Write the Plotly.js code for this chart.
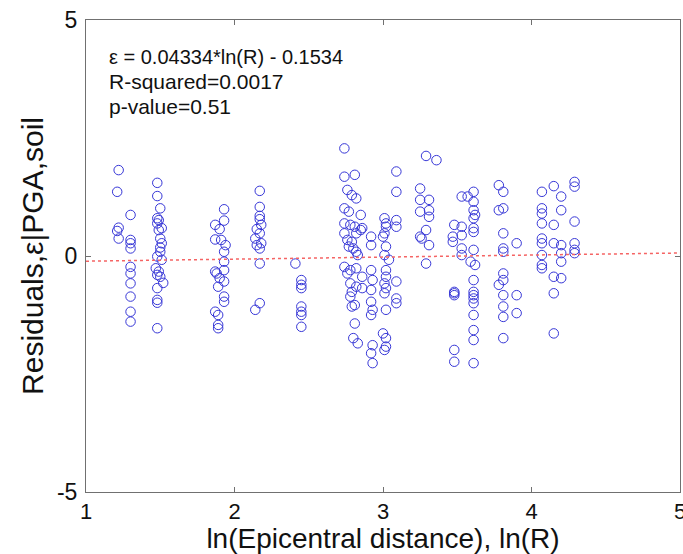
<!DOCTYPE html>
<html>
<head>
<meta charset="utf-8">
<script src="https://cdn.plot.ly/plotly-3.0.1.min.js"></script>
<style>html,body{margin:0;padding:0;background:#fff;}#chart{width:683px;height:554px;}</style>
</head>
<body>
<div id="chart"></div>
<script>
// ln(R) of each record, grouped by station-distance clusters
const lnR = [
  1.22,1.21,1.22,1.21,1.22,
  1.30,1.30,1.30,1.30,1.30,1.30,1.30,1.30,1.30,1.30,
  1.48,1.48,1.50,1.48,1.49,1.48,1.51,1.49,1.50,1.51,1.50,1.50,1.48,1.51,1.47,1.49,1.48,1.50,1.52,1.48,1.48,1.48,1.48,
  1.93,1.93,1.87,1.90,1.87,1.91,1.94,1.93,1.93,1.87,1.88,1.93,1.90,1.93,1.89,1.93,1.93,1.87,1.89,1.89,1.89,
  2.17,2.17,2.17,2.17,2.18,2.15,2.17,2.14,2.18,2.15,2.17,2.17,2.17,2.14,
  2.41,2.45,2.45,2.45,2.45,2.45,2.45,2.45,
  2.74,2.74,2.81,2.76,2.79,2.82,2.74,2.77,2.85,2.74,2.78,2.81,2.86,2.74,2.82,2.85,2.76,2.79,2.77,2.80,2.82,2.83,2.74,2.78,2.82,2.76,2.86,2.78,2.82,2.86,2.79,2.78,2.81,2.79,2.81,2.80,2.83,
  2.92,2.92,2.92,2.93,2.92,2.92,2.93,2.92,2.93,2.92,2.93,
  3.01,3.02,3.02,3.01,3.00,3.02,3.01,3.04,3.02,3.02,3.01,3.02,3.01,3.02,3.00,3.02,3.02,3.01,
  3.09,3.09,3.09,3.09,3.09,3.09,3.09,
  3.29,3.36,3.25,3.25,3.31,3.25,3.31,3.31,3.29,3.25,3.26,3.31,3.29,
  3.53,3.48,3.53,3.47,3.47,3.53,3.53,3.53,3.48,3.48,3.48,3.48,3.48,
  3.61,3.57,3.61,3.61,3.62,3.61,3.61,3.61,3.61,3.59,3.62,3.61,3.61,3.61,3.61,3.61,3.61,3.61,3.61,3.61,
  3.78,3.81,3.78,3.81,3.81,3.90,3.81,3.81,3.81,3.81,3.78,3.81,3.90,3.81,3.81,3.90,3.81,
  4.07,4.15,4.20,4.29,4.29,4.07,4.07,4.07,4.15,4.20,4.29,4.07,4.07,4.15,4.20,4.20,4.20,4.29,4.29,4.29,4.07,4.07,4.07,4.15,4.20,4.15,4.15
];
// residuals eps|PGA,soil, same order as lnR
const residual = [
  1.82,1.36,0.60,0.53,0.37,
  0.87,0.34,0.27,0.16,-0.23,-0.37,-0.58,-0.86,-1.18,-1.39,
  1.55,1.27,1.01,0.80,0.76,0.69,0.59,0.55,0.37,0.27,0.18,0.09,-0.01,-0.08,-0.26,-0.33,-0.40,-0.44,-0.57,-0.68,-0.93,-0.99,-1.53,
  0.99,0.75,0.66,0.57,0.35,0.34,0.23,0.09,-0.12,-0.33,-0.37,-0.30,-0.47,-0.54,-0.65,-0.86,-0.97,-1.18,-1.25,-1.46,-1.53,
  1.38,1.04,0.85,0.78,0.66,0.57,0.48,0.37,0.27,0.23,0.16,-0.16,-1.00,-1.14,
  -0.16,-0.51,-0.61,-0.68,-1.07,-1.18,-1.25,-1.50,
  2.28,1.68,1.72,1.40,1.29,1.22,1.01,0.94,0.87,0.69,0.66,0.62,0.59,0.48,0.48,0.55,0.34,0.30,0.20,0.16,0.09,0.02,-0.23,-0.30,-0.26,-0.37,-0.44,-0.58,-0.65,-0.68,-0.76,-0.86,-1.04,-1.07,-1.43,-1.74,-1.85,
  0.41,0.23,-0.30,-0.51,-0.72,-0.97,-1.14,-1.25,-1.89,-2.06,-2.27,
  0.80,0.69,0.62,0.48,0.41,0.20,0.02,-0.08,-0.30,-0.44,-0.58,-0.68,-0.79,-1.14,-1.64,-1.74,-1.92,-1.99,
  1.79,1.36,0.76,0.62,-0.54,-0.90,-1.00,
  2.12,2.03,1.43,1.19,1.19,0.94,0.97,0.83,0.55,0.41,0.37,0.23,-0.16,
  1.26,0.66,0.62,0.41,0.30,0.44,0.16,0.02,-0.76,-0.79,-0.83,-1.99,-2.24,
  1.36,1.26,1.15,0.97,0.87,0.80,0.59,0.51,0.13,-0.12,-0.19,-0.51,-0.76,-0.83,-0.90,-1.00,-1.25,-1.57,-1.78,-2.27,
  1.50,1.36,0.97,1.01,0.48,0.27,0.16,0.09,-0.37,-0.51,-0.61,-0.83,-0.83,-1.07,-1.29,-1.21,-1.74,
  1.36,1.48,1.26,1.57,1.47,1.01,0.90,0.69,0.66,0.97,0.73,0.37,0.27,0.27,0.23,0.06,-0.12,0.27,0.13,0.06,0.02,-0.19,-0.26,-0.44,-0.47,-0.79,-1.64
];
// linear fit eps = slope*ln(R) + intercept
const fitSlope = 0.04334;
const fitIntercept = -0.1534;
const fitX = [1, 5];
const fitY = fitX.map(v => fitSlope * v + fitIntercept);

const statLines = ["ε = 0.04334*ln(R) - 0.1534", "R-squared=0.0017", "p-value=0.51"];
const statY = [4.22, 3.69, 3.16];
const statSize = [20, 21, 21];

const xTicks = [1, 2, 3, 4, 5];
const yTicks = [-5, 0, 5];

const font = "Arial, 'Liberation Sans', Helvetica, sans-serif";

const traces = [
  {
    x: lnR, y: residual, type: 'scatter', mode: 'markers',
    marker: {symbol: 'circle-open', size: 9.5, color: 'rgb(55,55,215)', line: {width: 1}},
    hoverinfo: 'skip', showlegend: false
  },
  {
    x: fitX, y: fitY, type: 'scatter', mode: 'lines',
    line: {color: 'rgb(245,100,100)', width: 1.5, dash: 'dot'},
    hoverinfo: 'skip', showlegend: false
  }
];

const axisCommon = {
  showgrid: false, zeroline: false, showline: true, linecolor: '#707070', linewidth: 1,
  mirror: 'ticks', ticks: 'inside', ticklen: 5, tickcolor: '#707070', tickwidth: 1,
  tickfont: {family: font, size: 23, color: '#111'}, ticklabeloverflow: 'allow'
};

const layout = {
  width: 683, height: 554,
  margin: {l: 86, r: 3, t: 20, b: 62, pad: 0},
  paper_bgcolor: '#fff', plot_bgcolor: '#fff',
  font: {family: font, color: '#111'},
  xaxis: Object.assign({}, axisCommon, {
    range: [1, 5], tickvals: xTicks, ticktext: xTicks.map(String),
    tickfont: {family: font, size: 22, color: '#111'},
    title: {text: 'ln(Epicentral distance), ln(R)', font: {family: font, size: 28, color: '#111'}, standoff: 3},
    automargin: false
  }),
  yaxis: Object.assign({}, axisCommon, {
    range: [-5, 5], tickvals: yTicks, ticktext: yTicks.map(String),
    ticklabelstandoff: 3,
    title: {text: 'Residuals,ε|PGA,soil', font: {family: font, size: 30, color: '#111'}, standoff: 4},
    automargin: false
  }),
  annotations: statLines.map((t, i) => ({
    x: 1.14, y: statY[i], xref: 'x', yref: 'y', text: t, showarrow: false,
    xanchor: 'left', yanchor: 'middle', font: {family: font, size: statSize[i], color: '#111'}
  }))
};

Plotly.newPlot('chart', traces, layout, {staticPlot: true, displayModeBar: false});
</script>
</body>
</html>
